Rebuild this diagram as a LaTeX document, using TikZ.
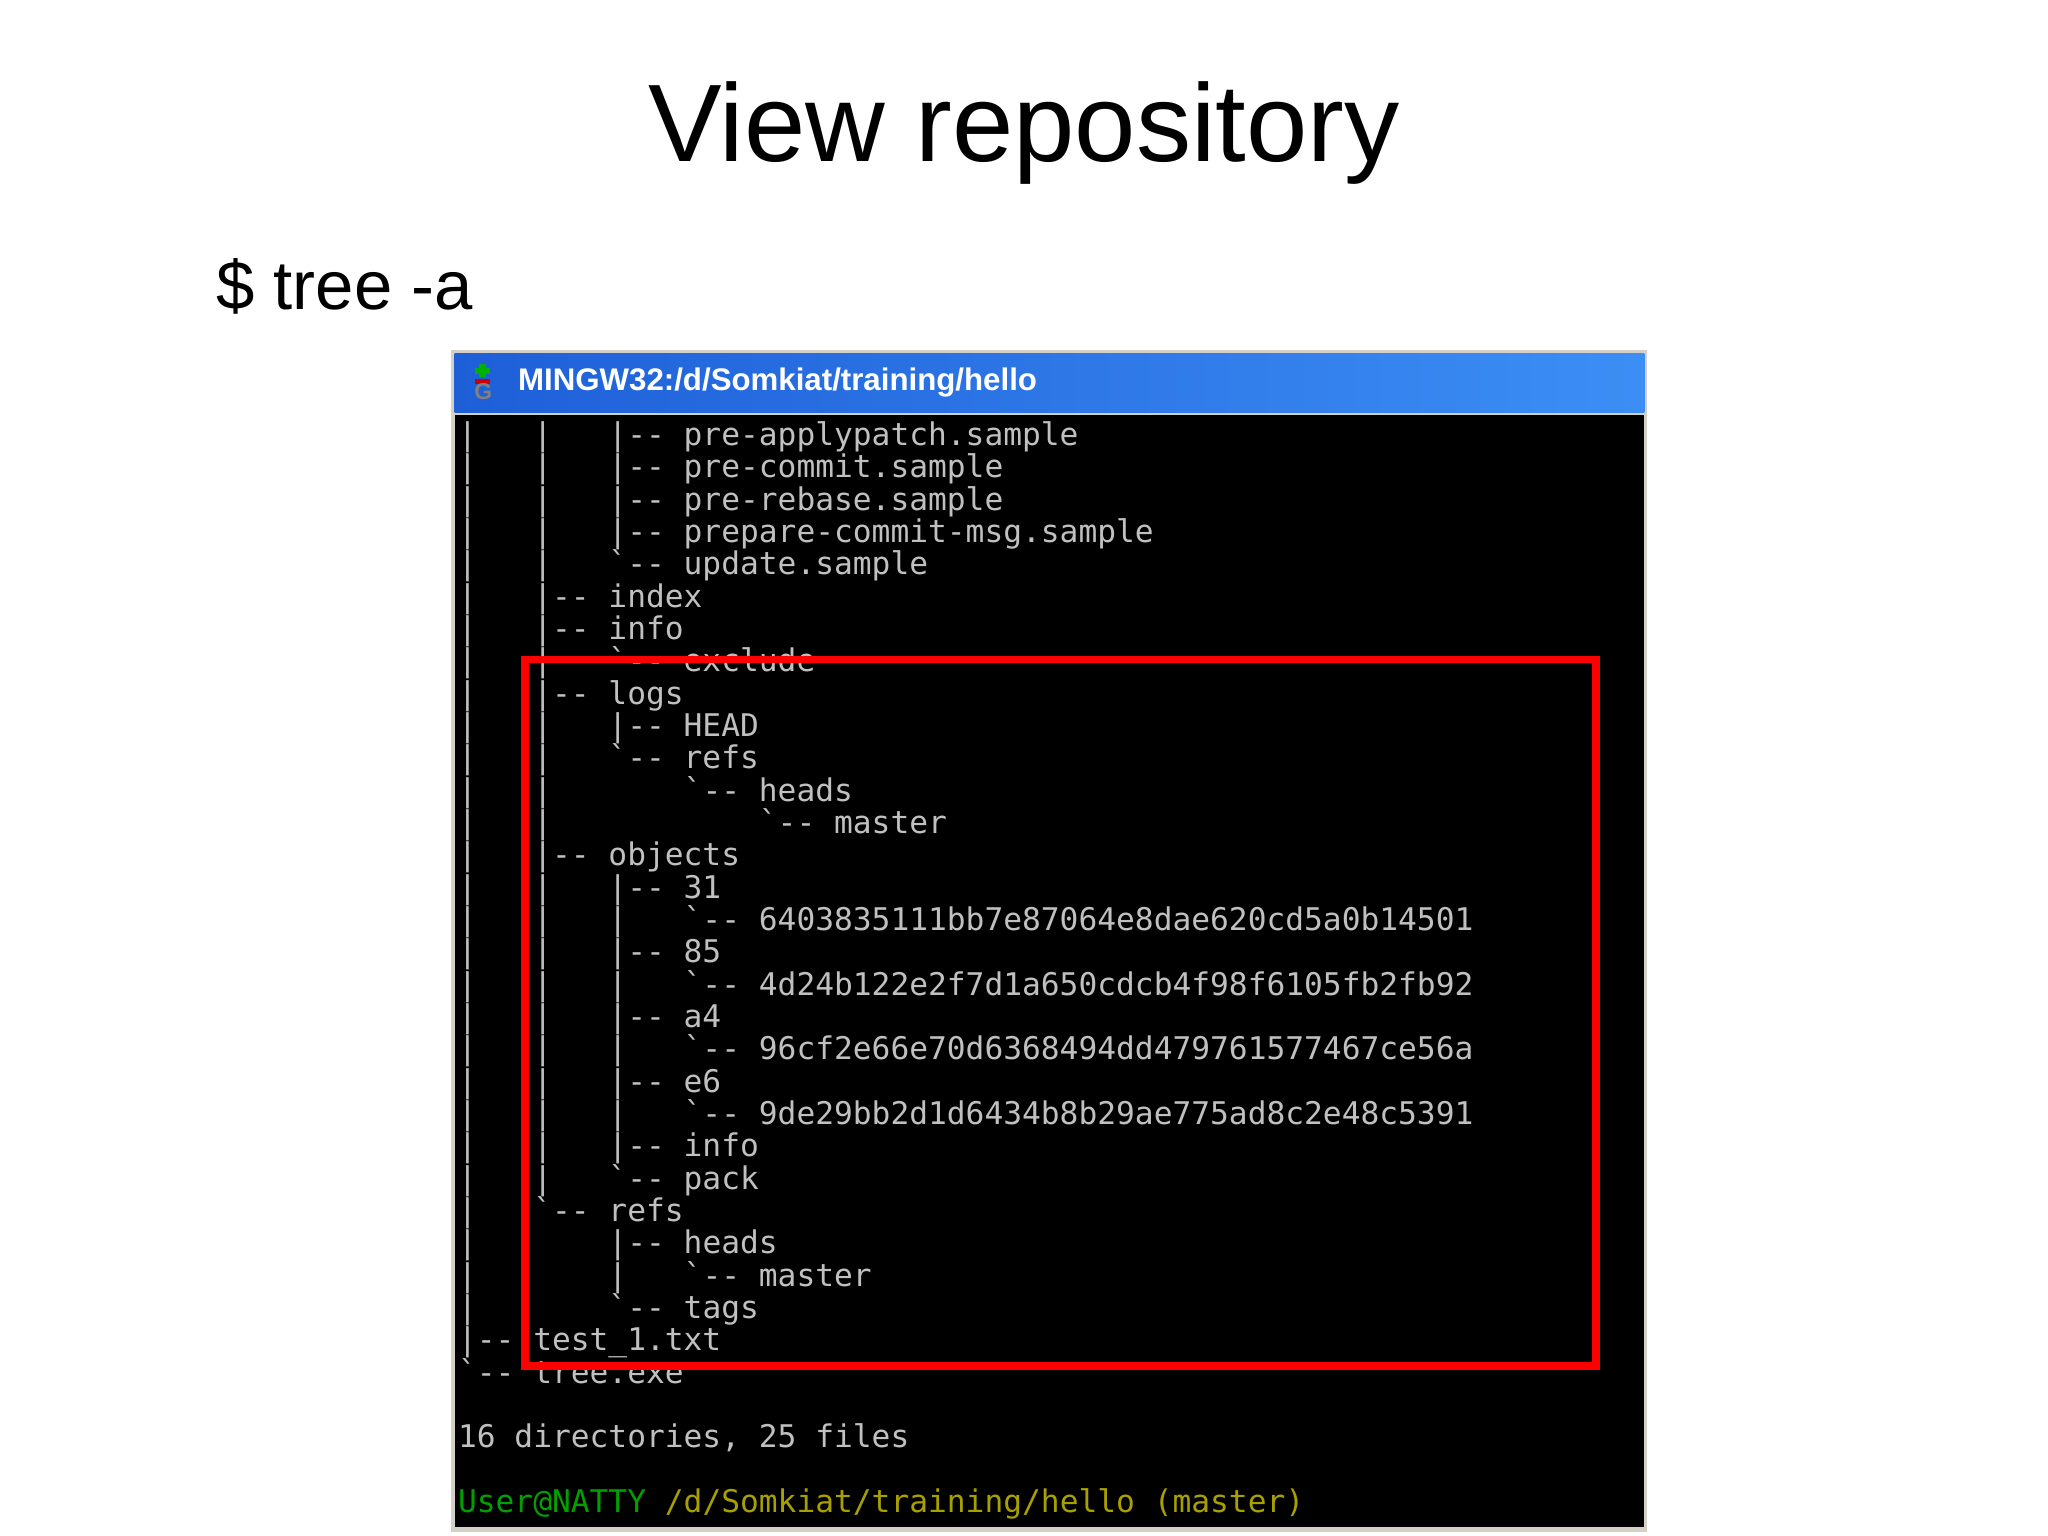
\documentclass[tikz,border=0pt]{standalone}
\usepackage{fontspec}
\setmainfont{Liberation Sans}
\newfontfamily\termfont[Ligatures=ResetAll]{DejaVu Sans Mono}
\definecolor{termgrey}{HTML}{C0C0C0}
\definecolor{termgreen}{HTML}{00A000}
\definecolor{termyellow}{HTML}{A8A000}
\definecolor{barL}{HTML}{1E5FD8}
\definecolor{barR}{HTML}{3C8EF5}
\newcommand\tl[3]{\node[term] (#1) at (350,{334+(#2-1)*24.76+7}) {#3};}
\newcommand\bt{\symbol{96}}
\begin{document}
\begin{tikzpicture}[x=0.01cm,y=-0.01cm,
  term/.style={anchor=base west,inner sep=0pt,text=termgrey,font=\termfont\fontsize{6.8}{8}\selectfont}]
\useasboundingbox (0,0) rectangle (1568,1176);
\fill[white] (0,0) rectangle (1568,1176);
\node[anchor=base,font=\fontsize{24}{29}\selectfont,inner sep=0pt] (title) at (784,124) {View repository};
\node[anchor=base west,font=\fontsize{15}{18}\selectfont,inner sep=0pt] (cmd) at (165,237) {\$ tree -a};
% window
\fill[fill={rgb,255:red,212;green,208;blue,200}] (345,268) rectangle (1261,1173);
\fill[black] (348,318) rectangle (1259,1169);
\shade[left color=barL,right color=barR] (348,271) rectangle (1259,316);
% icon
\fill[green!70!black] (367,279) rectangle (372,289);
\fill[green!70!black] (364,282) rectangle (375,286);
\fill[red!80!black] (364,290) rectangle (375,294);
\node[font=\bfseries\fontsize{5}{6}\selectfont,text=gray,inner sep=0pt] (ic) at (370,300) {G};
\node[anchor=west,inner sep=0pt,text=white,font=\bfseries\fontsize{6.8}{8}\selectfont] (bar) at (396,293) {MINGW32:/d/Somkiat/training/hello};
% lines
\tl{l1}{1}{|~~~|~~~|-{}-~pre-applypatch.sample}
\tl{l2}{2}{|~~~|~~~|-{}-~pre-commit.sample}
\tl{l3}{3}{|~~~|~~~|-{}-~pre-rebase.sample}
\tl{l4}{4}{|~~~|~~~|-{}-~prepare-commit-msg.sample}
\tl{l5}{5}{|~~~|~~~\bt-{}-~update.sample}
\tl{l6}{6}{|~~~|-{}-~index}
\tl{l7}{7}{|~~~|-{}-~info}
\tl{l8}{8}{|~~~|~~~\bt-{}-~exclude}
\tl{l9}{9}{|~~~|-{}-~logs}
\tl{l10}{10}{|~~~|~~~|-{}-~HEAD}
\tl{l11}{11}{|~~~|~~~\bt-{}-~refs}
\tl{l12}{12}{|~~~|~~~~~~~\bt-{}-~heads}
\tl{l13}{13}{|~~~|~~~~~~~~~~~\bt-{}-~master}
\tl{l14}{14}{|~~~|-{}-~objects}
\tl{l15}{15}{|~~~|~~~|-{}-~31}
\tl{l16}{16}{|~~~|~~~|~~~\bt-{}-~6403835111bb7e87064e8dae620cd5a0b14501}
\tl{l17}{17}{|~~~|~~~|-{}-~85}
\tl{l18}{18}{|~~~|~~~|~~~\bt-{}-~4d24b122e2f7d1a650cdcb4f98f6105fb2fb92}
\tl{l19}{19}{|~~~|~~~|-{}-~a4}
\tl{l20}{20}{|~~~|~~~|~~~\bt-{}-~96cf2e66e70d6368494dd479761577467ce56a}
\tl{l21}{21}{|~~~|~~~|-{}-~e6}
\tl{l22}{22}{|~~~|~~~|~~~\bt-{}-~9de29bb2d1d6434b8b29ae775ad8c2e48c5391}
\tl{l23}{23}{|~~~|~~~|-{}-~info}
\tl{l24}{24}{|~~~|~~~\bt-{}-~pack}
\tl{l25}{25}{|~~~\bt-{}-~refs}
\tl{l26}{26}{|~~~~~~~|-{}-~heads}
\tl{l27}{27}{|~~~~~~~|~~~\bt-{}-~master}
\tl{l28}{28}{|~~~~~~~\bt-{}-~tags}
\tl{l29}{29}{|-{}-~test\_1.txt}
\tl{l30}{30}{\bt-{}-~tree.exe}
\tl{l32}{32}{16~directories,~25~files}
\tl{l34}{34}{\textcolor{termgreen}{User@NATTY}~\textcolor{termyellow}{/d/Somkiat/training/hello~(master)}}
% highlight
\draw[red,line width=1.7pt] (402,505) rectangle (1222,1046);
\end{tikzpicture}
\end{document}
